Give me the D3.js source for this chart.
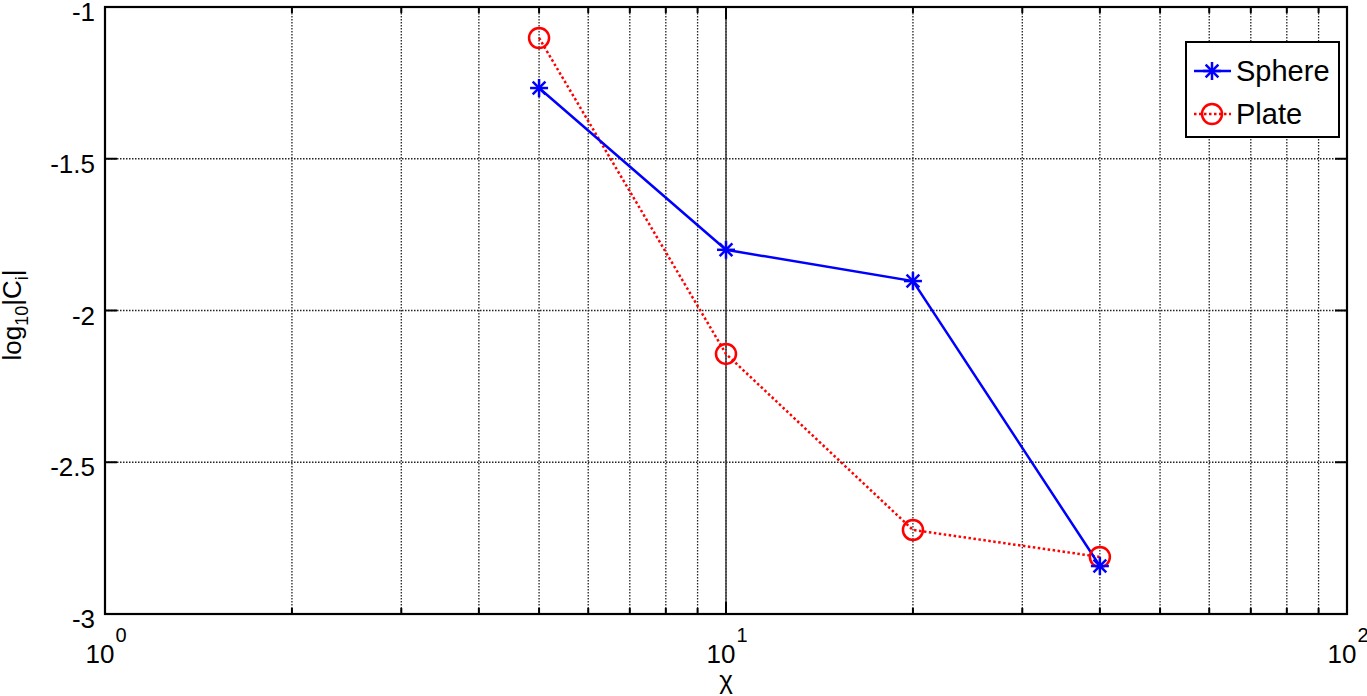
<!DOCTYPE html>
<html><head><meta charset="utf-8">
<script src="https://cdn.jsdelivr.net/npm/d3@7"></script>
<style>
body{margin:0;background:#fff;}
text{font-family:"Liberation Sans",Arial,Helvetica,sans-serif;fill:#000;}
</style></head>
<body><svg id="c" width="1367" height="696"></svg>
<script>
const chi = [5, 10, 20, 40];
const sphere = [-1.267, -1.80, -1.903, -2.842];
const plate = [-1.102, -2.143, -2.723, -2.812];
const yTicks = [-1, -1.5, -2, -2.5, -3];
const xMajor = [1, 10, 100];
const xMinor = [2,3,4,5,6,7,8,9,20,30,40,50,60,70,80,90];

const svg = d3.select("#c");
const L = 105, R = 1347, T = 7, B = 614;
const x = d3.scaleLog().domain([1, 100]).range([L, R]);
const y = d3.scaleLinear().domain([-3, -1]).range([B, T]);

const g = svg.append("g");
// grid
g.selectAll(".gx").data(xMinor.concat([10])).enter().append("line")
  .attr("x1", d => x(d)).attr("x2", d => x(d)).attr("y1", T).attr("y2", B)
  .attr("stroke", "#222").attr("stroke-width", 1.3).attr("stroke-dasharray", "1.5,1.5");
g.append("line").attr("x1", x(10)).attr("x2", x(10)).attr("y1", T).attr("y2", B)
  .attr("stroke", "#333").attr("stroke-width", 1.4);
g.selectAll(".gy").data(yTicks.filter(d => d > -3 && d < -1)).enter().append("line")
  .attr("x1", L).attr("x2", R).attr("y1", d => y(d)).attr("y2", d => y(d))
  .attr("stroke", "#222").attr("stroke-width", 1.3).attr("stroke-dasharray", "1.5,1.5");

// ticks (inward)
const allX = xMinor.concat(xMajor);
allX.forEach(d => {
  const len = xMajor.includes(d) ? 12 : 6;
  g.append("line").attr("x1", x(d)).attr("x2", x(d)).attr("y1", B).attr("y2", B - len).attr("stroke", "#000").attr("stroke-width", 2);
  g.append("line").attr("x1", x(d)).attr("x2", x(d)).attr("y1", T).attr("y2", T + len).attr("stroke", "#000").attr("stroke-width", 2);
});
yTicks.forEach(d => {
  g.append("line").attr("x1", L).attr("x2", L + 12).attr("y1", y(d)).attr("y2", y(d)).attr("stroke", "#000").attr("stroke-width", 2);
  g.append("line").attr("x1", R).attr("x2", R - 12).attr("y1", y(d)).attr("y2", y(d)).attr("stroke", "#000").attr("stroke-width", 2);
});

// frame
g.append("rect").attr("x", L).attr("y", T).attr("width", R - L).attr("height", B - T)
  .attr("fill", "none").attr("stroke", "#000").attr("stroke-width", 2.2);

// y tick labels
g.selectAll(".yl").data(yTicks).enter().append("text")
  .attr("x", L - 10).attr("y", d => y(d) + 14)
  .attr("text-anchor", "end").attr("font-size", 26)
  .text(d => String(d));

// x tick labels 10^n
xMajor.forEach(d => {
  const e = Math.round(Math.log10(d));
  const t = g.append("text").attr("x", x(d) + 1).attr("y", 663).attr("text-anchor", "middle").attr("font-size", 26);
  t.append("tspan").text("10");
  t.append("tspan").attr("dy", -21).attr("dx", 1).attr("font-size", 20).text(String(e));
});

// axis labels
g.append("text").attr("x", x(10)).attr("y", 689).attr("text-anchor", "middle").attr("font-size", 26).text("χ");
const yl = g.append("text").attr("transform", `translate(21,315) rotate(-90)`).attr("text-anchor", "middle").attr("font-size", 26);
yl.append("tspan").text("log");
yl.append("tspan").attr("dy", 7).attr("font-size", 18).text("10");
yl.append("tspan").attr("dy", -7).text("|C");
yl.append("tspan").attr("dy", 7).attr("font-size", 18).text("i");
yl.append("tspan").attr("dy", -7).text("|");

// lines
const line = d3.line().x(d => x(d[0])).y(d => y(d[1]));
const sData = chi.map((c, i) => [c, sphere[i]]);
const pData = chi.map((c, i) => [c, plate[i]]);
g.append("path").attr("d", line(pData)).attr("fill", "none").attr("stroke", "#f00").attr("stroke-width", 2.5).attr("stroke-dasharray", "2.5,2.5");
g.append("path").attr("d", line(sData)).attr("fill", "none").attr("stroke", "#00f").attr("stroke-width", 2.5);

function star(sel, cx, cy, r, col) {
  const a = r * 0.7071;
  const segs = [[-r,0,r,0],[0,-r,0,r],[-a,-a,a,a],[-a,a,a,-a]];
  segs.forEach(s => sel.append("line").attr("x1", cx + s[0]).attr("y1", cy + s[1]).attr("x2", cx + s[2]).attr("y2", cy + s[3]).attr("stroke", col).attr("stroke-width", 2.5));
}
function circ(sel, cx, cy, r, col) {
  sel.append("circle").attr("cx", cx).attr("cy", cy).attr("r", r).attr("fill", "none").attr("stroke", col).attr("stroke-width", 2.5);
}
pData.forEach(d => circ(g, x(d[0]), y(d[1]), 10, "#f00"));
sData.forEach(d => star(g, x(d[0]), y(d[1]), 9, "#00f"));

// legend
const lg = g.append("g");
lg.append("rect").attr("x", 1186).attr("y", 42).attr("width", 153).attr("height", 95).attr("fill", "#fff").attr("stroke", "#000").attr("stroke-width", 2);
lg.append("line").attr("x1", 1194).attr("x2", 1231).attr("y1", 71).attr("y2", 71).attr("stroke", "#00f").attr("stroke-width", 2.5);
star(lg, 1212, 71, 9, "#00f");
lg.append("line").attr("x1", 1194).attr("x2", 1231).attr("y1", 114).attr("y2", 114).attr("stroke", "#f00").attr("stroke-width", 2.5).attr("stroke-dasharray", "2.5,2.5");
circ(lg, 1212, 114, 10, "#f00");
lg.append("text").attr("x", 1236).attr("y", 81).attr("font-size", 29).text("Sphere");
lg.append("text").attr("x", 1236).attr("y", 124).attr("font-size", 29).text("Plate");
</script></body></html>
